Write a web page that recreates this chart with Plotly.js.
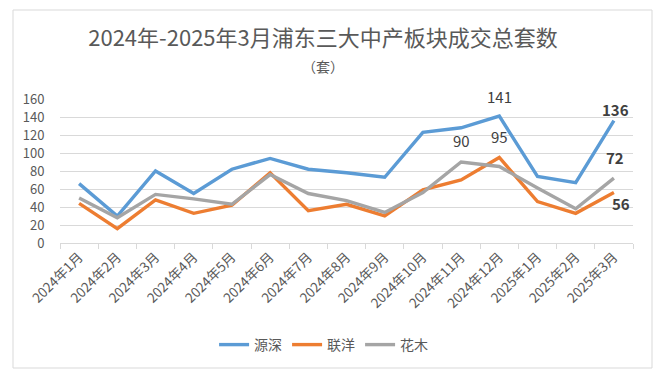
<!DOCTYPE html>
<html>
<head>
<meta charset="utf-8">
<script src="https://cdn.plot.ly/plotly-3.0.1.min.js"></script>
<style>body{margin:0;background:#fff}#chart{width:661px;height:385px}</style>
</head>
<body>
<div id="chart"></div>
<script>
var months = ["2024年1月","2024年2月","2024年3月","2024年4月","2024年5月","2024年6月","2024年7月","2024年8月","2024年9月","2024年10月","2024年11月","2024年12月","2025年1月","2025年2月","2025年3月"];
var yuanshen = [66, 30, 80, 55, 82, 94, 82, 78, 73, 123, 128, 141, 74, 67, 136];
var lianyang = [44, 16, 48, 33, 42, 78, 36, 43, 30, 59, 70, 95, 46, 33, 56];
var huamu = [50, 28, 54, 49, 43, 76, 55, 47, 34, 56, 90, 85, 61, 38, 72];
var yTicks = [0, 20, 40, 60, 80, 100, 120, 140, 160];

var font = "'Noto Sans CJK SC', 'Noto Sans', sans-serif";
var txt = "#595959";

function tr(name, y, color) {
  return {x: months, y: y, name: name, type: "scatter", mode: "lines",
    line: {color: color, width: 3.4}, hoverinfo: "x+y", cliponaxis: false};
}
var data = [tr("源深", yuanshen, "#5B9BD5"), tr("联洋", lianyang, "#ED7D31"), tr("花木", huamu, "#A5A5A5")];

function ann(i, arr, yshift, bold, xshift) {
  return {x: months[i], y: arr[i], text: bold ? "<b>" + arr[i] + "</b>" : String(arr[i]),
    showarrow: false, yshift: yshift, xshift: xshift || 0,
    font: {family: font, size: 15, color: "#404040"}};
}
var annotations = [
  ann(11, yuanshen, 20, false),
  ann(10, huamu, 22, false),
  ann(11, lianyang, 21, false),
  ann(14, yuanshen, 11, true, 2),
  ann(14, huamu, 21, true, 1),
  ann(14, lianyang, -11, true, 7),
  {xref: "paper", yref: "paper", x: (323 - 60) / 573, y: (243 - 66) / 144, yanchor: "middle", text: "（套）",
   showarrow: false, font: {family: font, size: 14, color: txt}}
];

var layout = {
  width: 661, height: 385,
  margin: {l: 60, r: 28, t: 99, b: 142},
  paper_bgcolor: "#fff", plot_bgcolor: "#fff",
  title: {text: "2024年-2025年3月浦东三大中产板块成交总套数",
    font: {family: font, size: 22, color: txt}, x: 323 / 661, xanchor: "center", y: 1 - 38 / 385, yanchor: "middle"},
  showlegend: true,
  legend: {orientation: "h", x: 0.46, xanchor: "center", y: (243 - 345) / 144, yanchor: "middle",
    font: {family: font, size: 14, color: txt}, tracegroupgap: 0},
  xaxis: {type: "category", range: [-0.5, 14.5], tickangle: -45, tickfont: {family: font, size: 13.5, color: txt},
    showgrid: false, showline: true, linecolor: "#d9d9d9", linewidth: 1,
    ticks: "outside", tickson: "boundaries", ticklen: 5, tickcolor: "#d9d9d9",
    fixedrange: true, zeroline: false},
  yaxis: {range: [0, 160], tickvals: yTicks, tickfont: {family: font, size: 13, color: txt},
    showgrid: true, gridcolor: "#d9d9d9", gridwidth: 1, zeroline: false, showline: false,
    ticks: "outside", ticklen: 12, tickcolor: "rgba(0,0,0,0)", fixedrange: true},
  annotations: annotations,
  shapes: [{type: "rect", xref: "paper", yref: "paper",
    x0: (13 - 60) / 573, x1: (652 - 60) / 573, y0: (243 - 368) / 144, y1: (243 - 10) / 144,
    line: {color: "#d9d9d9", width: 1}, fillcolor: "rgba(0,0,0,0)", layer: "below"}]
};
Plotly.newPlot("chart", data, layout, {displayModeBar: false, staticPlot: true});
</script>
</body>
</html>
